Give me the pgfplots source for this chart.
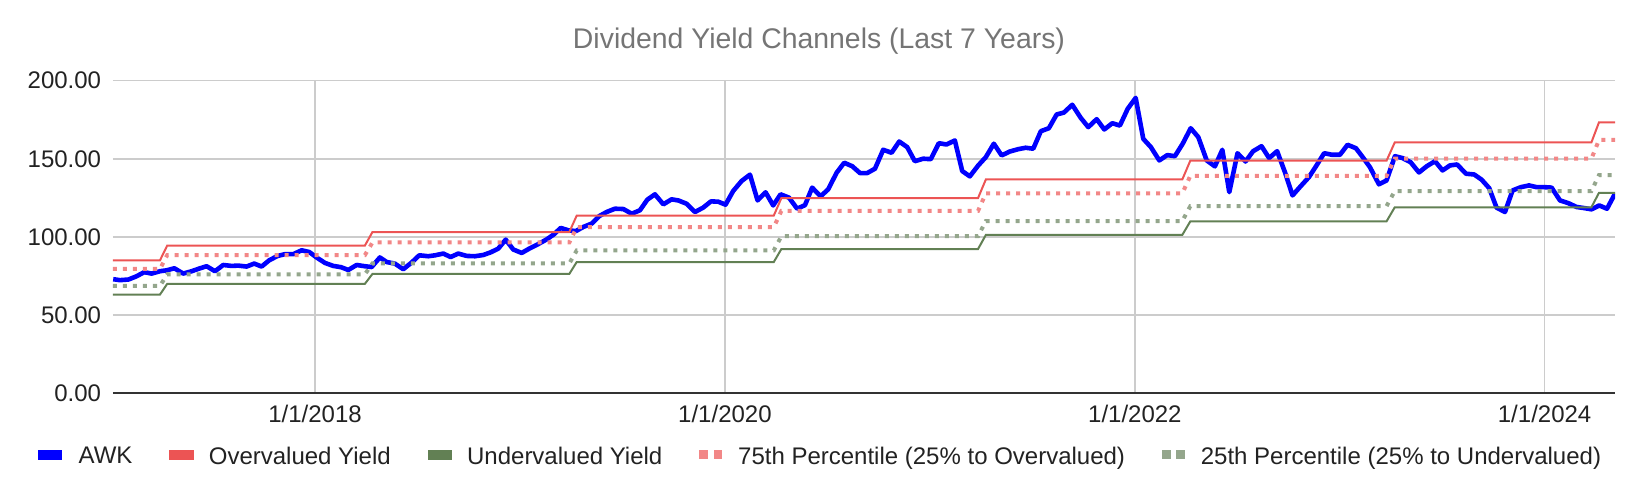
\documentclass[border=0pt]{standalone}
\usepackage{fontspec}
\setmainfont{Liberation Sans}
\usepackage{pgfplots}
\pgfplotsset{compat=1.18}
\usepackage{pgfplotstable}
\definecolor{awk}{RGB}{0,0,255}
\definecolor{over}{RGB}{236,84,84}
\definecolor{under}{RGB}{98,128,84}
\definecolor{pA}{RGB}{242,135,135}
\definecolor{pB}{RGB}{148,166,140}
\definecolor{gridc}{RGB}{204,204,204}
\definecolor{txt}{RGB}{34,34,34}
\definecolor{ttl}{RGB}{117,117,117}

\pgfplotstableread{
x v
2017.017 73.0
2017.050 72.4
2017.091 72.8
2017.131 74.9
2017.168 77.5
2017.204 76.6
2017.245 78.1
2017.278 78.7
2017.315 80.0
2017.358 76.6
2017.399 78.1
2017.436 79.8
2017.472 81.3
2017.513 78.1
2017.553 82.1
2017.594 81.5
2017.626 81.7
2017.667 81.1
2017.704 83.0
2017.740 81.1
2017.777 85.1
2017.818 87.9
2017.854 89.0
2017.894 89.0
2017.935 91.5
2017.972 90.4
2018.008 86.9
2018.049 83.4
2018.089 81.5
2018.127 80.7
2018.162 78.9
2018.203 82.1
2018.243 81.3
2018.276 80.8
2018.316 86.9
2018.349 84.0
2018.389 83.0
2018.430 79.4
2018.471 83.7
2018.508 88.3
2018.552 87.7
2018.585 88.3
2018.625 89.4
2018.661 87.2
2018.698 89.4
2018.739 87.9
2018.779 87.7
2018.820 88.5
2018.856 90.2
2018.893 92.6
2018.929 98.3
2018.966 92.0
2019.007 89.8
2019.047 92.8
2019.088 95.5
2019.129 98.5
2019.164 101.7
2019.197 105.8
2019.234 104.3
2019.271 103.8
2019.307 106.4
2019.348 108.6
2019.385 113.4
2019.421 116.0
2019.461 118.1
2019.502 117.9
2019.543 114.9
2019.583 117.1
2019.619 123.9
2019.656 127.3
2019.697 120.9
2019.737 124.1
2019.770 123.4
2019.810 121.3
2019.851 116.0
2019.891 118.8
2019.929 122.8
2019.964 122.6
2020.000 120.7
2020.037 129.4
2020.078 135.8
2020.119 139.9
2020.156 123.4
2020.195 128.6
2020.232 120.2
2020.268 127.3
2020.309 125.2
2020.349 118.1
2020.387 120.4
2020.422 131.6
2020.463 126.0
2020.500 130.5
2020.541 141.1
2020.578 147.5
2020.617 145.3
2020.655 140.9
2020.690 140.9
2020.728 143.7
2020.768 155.8
2020.809 153.9
2020.846 161.1
2020.885 157.5
2020.922 148.5
2020.963 150.1
2021.000 149.8
2021.039 160.0
2021.077 159.2
2021.117 161.8
2021.153 142.2
2021.190 138.8
2021.231 145.8
2021.268 151.1
2021.307 159.7
2021.345 152.2
2021.385 154.7
2021.426 156.2
2021.462 157.1
2021.499 156.5
2021.536 167.7
2021.575 169.6
2021.613 178.4
2021.648 179.6
2021.689 184.6
2021.730 176.3
2021.767 170.3
2021.808 175.4
2021.845 168.8
2021.884 172.8
2021.921 171.3
2021.959 182.0
2021.998 189.0
2022.035 162.8
2022.072 157.5
2022.113 149.0
2022.152 152.4
2022.189 151.7
2022.227 159.7
2022.266 169.6
2022.303 163.9
2022.344 149.0
2022.384 145.2
2022.420 155.8
2022.454 128.7
2022.494 153.6
2022.533 148.3
2022.570 154.9
2022.611 158.1
2022.648 150.5
2022.687 154.9
2022.725 141.5
2022.762 126.6
2022.801 132.4
2022.842 138.3
2022.879 145.8
2022.916 153.6
2022.955 152.6
2022.993 152.6
2023.030 159.0
2023.071 156.8
2023.105 150.9
2023.139 144.7
2023.183 133.7
2023.220 136.2
2023.261 151.7
2023.298 150.5
2023.337 147.9
2023.378 141.3
2023.415 145.2
2023.456 148.5
2023.493 142.6
2023.529 145.8
2023.564 146.4
2023.607 140.5
2023.647 140.0
2023.683 136.7
2023.720 131.3
2023.756 118.8
2023.797 116.0
2023.834 129.8
2023.875 131.9
2023.914 133.0
2023.951 131.9
2023.988 131.9
2024.024 131.6
2024.065 123.4
2024.105 121.7
2024.146 119.2
2024.183 118.5
2024.219 117.7
2024.256 120.2
2024.294 118.1
2024.333 127.7
}\awkdata

\pgfplotstableread{
x over under pA pB
2017.016 85.1 63.2 79.6 68.7
2017.245 85.1 63.2 79.6 68.7
2017.280 94.5 70.0 88.4 76.1
2018.243 94.5 70.0 88.4 76.1
2018.280 103.2 76.4 96.5 83.1
2019.239 103.2 76.4 96.5 83.1
2019.275 113.7 84.0 106.3 91.4
2020.235 113.7 84.0 106.3 91.4
2020.272 124.9 92.3 116.7 100.5
2021.230 124.9 92.3 116.7 100.5
2021.268 136.8 101.3 127.9 110.2
2022.225 136.8 101.3 127.9 110.2
2022.264 148.8 110.0 139.1 119.7
2023.220 148.8 110.0 139.1 119.7
2023.260 160.5 119.0 150.1 129.4
2024.218 160.5 119.0 150.1 129.4
2024.255 173.4 128.3 162.1 139.6
2024.333 173.4 128.3 162.1 139.6
}\bands

\pgfplotsset{
  solidicon/.style={legend image code/.code={%
    \fill[##1, draw=none, solid] (0pt,-1.3pt) rectangle (12.2pt,3.5pt);
    \path (19.2pt,0pt);}},
  doticon/.style={legend image code/.code={%
    \fill[##1, draw=none, solid] (0.8pt,-1.1pt) rectangle (5.3pt,3.3pt);
    \fill[##1, draw=none, solid] (8pt,-1.1pt) rectangle (12.2pt,3.3pt);
    \path (19.2pt,0pt);}},
}

\begin{document}
\begin{tikzpicture}
\begin{axis}[
  name=ax,
  scale only axis,
  width=751pt, height=156.3pt,
  xmin=2017.016, xmax=2024.333,
  ymin=0, ymax=200,
  axis x line=bottom, axis y line=left,
  y axis line style={draw=none},
  x axis line style={draw=black!80, line width=1pt, -},
  major tick length=0pt,
  xtick={2018,2019.997,2021.994,2023.99},
  xticklabels={1/1/2018,1/1/2020,1/1/2022,1/1/2024},
  ytick={0,50,100,150,200},
  /pgf/number format/assume math mode=true,
  yticklabel style={/pgf/number format/fixed, /pgf/number format/fixed zerofill, /pgf/number format/precision=2},
  ticklabel style={font=\fontsize{12}{14}\selectfont, text=txt},
  x tick label style={anchor=base, yshift=-14.8pt},
  y tick label style={anchor=east, inner sep=0pt, xshift=-5.75pt},
  xmajorgrids, ymajorgrids,
  grid style={draw=gridc, line width=0.75pt},
  legend columns=5,
  legend style={at={(0.4704,-0.204)}, anchor=center, draw=none, fill=none,
    font=\fontsize{12}{14}\selectfont, text=txt,
    inner sep=0pt, outer sep=0pt, row sep=0pt, column sep=0pt,
    nodes={inner sep=0pt},
    /tikz/every even column/.append style={column sep=18.5pt}},
  legend cell align=left,
]
\addplot[color=awk, line width=2.3pt, line join=round, solidicon] table[x=x, y=v] {\awkdata};
\addlegendentry{AWK}
\addplot[color=over, line width=1pt, solidicon] table[x=x, y=over] {\bands};
\addlegendentry{Overvalued Yield}
\addplot[color=under, line width=1pt, solidicon] table[x=x, y=under] {\bands};
\addlegendentry{Undervalued Yield}
\addplot[color=pA, line width=2pt, dash pattern=on 2pt off 3pt, doticon] table[x=x, y=pA] {\bands};
\addlegendentry{75th Percentile (25\% to Overvalued)}
\addplot[color=pB, line width=2pt, dash pattern=on 2pt off 3pt, doticon] table[x=x, y=pB] {\bands};
\addlegendentry{25th Percentile (25\% to Undervalued)}
\end{axis}
\node[anchor=base, font=\fontsize{14.2}{16}\selectfont, text=ttl] at ([xshift=353pt, yshift=15.9pt]ax.north west) {Dividend Yield Channels (Last 7 Years)};
\pgfresetboundingbox
\path ([shift={(-56.5pt,-50.35pt)}]ax.south west) rectangle ([shift={(12.5pt,40.35pt)}]ax.north east);
\end{tikzpicture}
\end{document}
